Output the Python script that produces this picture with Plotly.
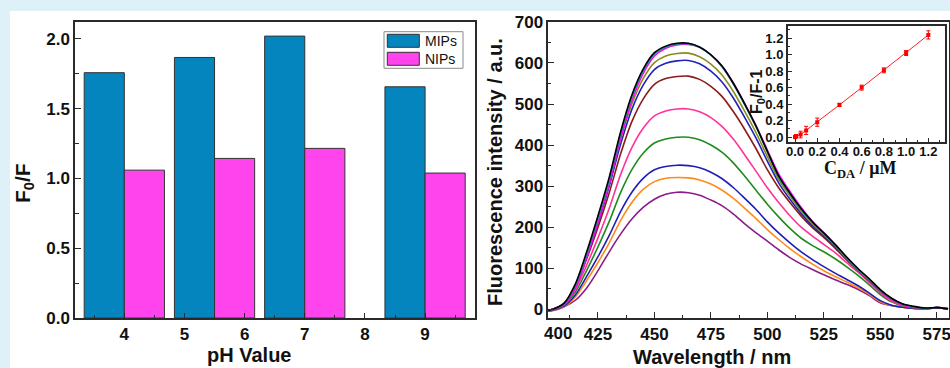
import plotly.graph_objects as go

W, H = 950, 368
def fx(x):
    return x / W
def fy(y):
    return 1 - y / H

FONT = "Arial, 'Liberation Sans', sans-serif"
SERIF = "'Times New Roman', 'Liberation Serif', serif"
AXC = "#2a2a2a"

# ---------------- Left panel: F0/F vs pH ----------------
group_pos = [4.0, 5.5, 7.0, 9.0]
mips = [1.757, 1.866, 2.019, 1.656]
nips = [1.059, 1.143, 1.215, 1.038]
bar_width = 0.667
ph_ticks = [4, 5, 6, 7, 8, 9]

# ---------------- Right panel: fluorescence spectra ----------------
wavelength = [400, 405, 410, 415, 420, 425, 430, 435, 440, 445, 450, 455, 460, 465, 470,
              475, 480, 485, 490, 495, 500, 505, 510, 515, 520, 525, 530, 535, 540, 545,
              550, 555, 560, 565, 570, 575, 580]

spec_black = [-5, 0, 15, 62, 140, 228, 322, 432, 522, 585, 625, 641, 648, 648, 639, 620, 592,
              550, 500, 446, 385, 325, 283, 245, 213, 186, 158, 128, 100, 75, 48, 27, 13, 7, 3, 4, 1]
spec_teal = [-5, 0, 13, 58, 134, 222, 316, 426, 517, 581, 622, 639, 646, 647, 638, 619, 590,
             548, 498, 444, 383, 322, 281, 243, 211, 184, 156, 126, 98, 73, 47, 26, 12, 6, 2, 4, 1]
spec_magenta = [-5, -1, 11, 52, 126, 212, 306, 416, 508, 574, 617, 636, 644, 645, 638, 620, 592,
                551, 501, 447, 388, 330, 287, 248, 214, 186, 157, 127, 99, 73, 46, 25, 11, 5, 1, 4, 1]
spec_olive = [-5, 0, 14, 58, 132, 216, 308, 414, 500, 562, 601, 617, 623, 624, 615, 597, 570,
              530, 482, 430, 372, 316, 276, 239, 208, 182, 155, 125, 97, 72, 46, 26, 12, 6, 2, 4, 1]
spec_blue = [-5, 0, 13, 56, 128, 210, 300, 402, 487, 546, 584, 599, 605, 606, 598, 580, 553,
             514, 467, 417, 361, 308, 268, 233, 203, 178, 152, 123, 96, 71, 45, 25, 12, 5, 2, 4, 1]
spec_brown = [-5, 0, 13, 54, 123, 200, 284, 378, 457, 512, 548, 562, 567, 568, 560, 543, 518,
              481, 438, 391, 340, 296, 260, 227, 199, 175, 149, 121, 95, 70, 45, 25, 12, 5, 2, 4, 1]
spec_pink = [-5, 0, 12, 48, 108, 174, 246, 328, 394, 441, 471, 483, 488, 488, 481, 467, 445,
             414, 376, 336, 296, 260, 228, 200, 178, 158, 138, 114, 91, 66, 40, 20, 9, 4, 1, 4, 1]
spec_green = [-5, -1, 10, 42, 95, 152, 214, 284, 340, 380, 405, 415, 419, 419, 413, 400, 382,
              356, 324, 290, 256, 225, 197, 173, 155, 140, 123, 104, 83, 60, 36, 18, 8, 3, 1, 4, 1]
spec_blue2 = [-6, -2, 8, 35, 80, 128, 180, 238, 285, 319, 340, 348, 351, 350, 345, 334, 318,
              296, 270, 243, 213, 186, 162, 140, 121, 104, 88, 73, 58, 40, 21, 10, 5, 2, 1, 4, 1]
spec_orange = [-6, -3, 6, 30, 70, 114, 162, 216, 260, 292, 311, 319, 321, 320, 315, 305, 290,
               270, 246, 221, 194, 170, 148, 128, 110, 94, 80, 67, 53, 37, 18, 9, 5, 2, 1, 4, 1]
spec_purple = [-6, -3, 6, 22, 52, 94, 140, 183, 220, 248, 268, 280, 285, 284, 278, 266, 252,
               232, 208, 186, 166, 145, 126, 110, 97, 84, 72, 61, 49, 34, 16, 9, 5, 2, 1, 3, 1]

spectra = [
    (spec_purple, "#8B1C8B"),
    (spec_orange, "#FF8C1A"),
    (spec_blue2, "#1F1FB8"),
    (spec_green, "#1E8C1E"),
    (spec_pink, "#FF3399"),
    (spec_brown, "#8B1A1A"),
    (spec_blue, "#2222BB"),
    (spec_olive, "#8C8C1E"),
    (spec_magenta, "#FF00FF"),
    (spec_teal, "#139696"),
    (spec_black, "#000000"),
]

wl_ticks = [400, 425, 450, 475, 500, 525, 550, 575]

# ---------------- Inset: F0/F-1 vs C_DA ----------------
c_da = [0.0, 0.01, 0.05, 0.1, 0.2, 0.4, 0.6, 0.8, 1.0, 1.2]
f_ratio = [0.0, 0.01, 0.03, 0.08, 0.18, 0.39, 0.60, 0.81, 1.02, 1.24]
f_err = [0.02, 0.02, 0.04, 0.05, 0.05, 0.02, 0.03, 0.03, 0.03, 0.05]

fig = go.Figure()

fig.add_trace(go.Bar(x=group_pos, y=mips, width=bar_width, offset=-bar_width,
                     marker=dict(color="#0585BD", line=dict(color="#333333", width=1)),
                     name="MIPs", xaxis="x", yaxis="y", showlegend=False))
fig.add_trace(go.Bar(x=group_pos, y=nips, width=bar_width, offset=0,
                     marker=dict(color="#FF44EE", line=dict(color="#333333", width=1)),
                     name="NIPs", xaxis="x", yaxis="y", showlegend=False))

for ys, col in spectra:
    fig.add_trace(go.Scatter(x=wavelength, y=ys, mode="lines",
                             line=dict(color=col, width=1.6, shape="spline", smoothing=0.8),
                             xaxis="x2", yaxis="y2", showlegend=False, hoverinfo="skip"))

fig.add_trace(go.Scatter(x=c_da, y=f_ratio, mode="lines+markers",
                         line=dict(color="#FF2020", width=1),
                         marker=dict(color="#FF0000", size=4, symbol="square"),
                         error_y=dict(type="data", array=f_err, color="#FF0000", thickness=1, width=2),
                         xaxis="x3", yaxis="y3", showlegend=False))

common = dict(showline=True, linecolor=AXC, mirror=True, showgrid=False, zeroline=False,
              ticks="inside", tickcolor=AXC, automargin=False, ticklabeloverflow="allow")

layout = dict(
    width=W, height=H,
    margin=dict(l=0, r=0, t=0, b=0, autoexpand=False),
    paper_bgcolor="#DFF1F8",
    plot_bgcolor="white",
    barmode="overlay",
    font=dict(family=FONT),
    xaxis=dict(domain=[fx(75), fx(475)], anchor="y", range=[3.18, 9.83],
               tickvals=ph_ticks, ticklen=5, linewidth=1.5,
               minor=dict(ticks="inside", dtick=0.5, tick0=0, ticklen=3, tickcolor=AXC),
               tickfont=dict(family=FONT, size=17, color="#111111", weight="bold"), **common),
    yaxis=dict(domain=[fy(318), fy(22)], anchor="x", range=[0, 2.12],
               tickvals=[0, 0.5, 1.0, 1.5, 2.0], ticktext=["0.0", "0.5", "1.0", "1.5", "2.0"],
               ticklen=6, linewidth=1.5,
               minor=dict(ticks="inside", dtick=0.25, tick0=0, ticklen=4, tickcolor=AXC),
               tickfont=dict(family=FONT, size=17, color="#111111", weight="bold"), **common),
    xaxis2=dict(domain=[fx(548.3), fx(948.7)], anchor="y2", range=[403, 580.3],
                tickvals=wl_ticks, ticklen=6, linewidth=1.5,
                minor=dict(ticks="inside", dtick=12.5, tick0=400, ticklen=3, tickcolor=AXC),
                tickfont=dict(family=FONT, size=17, color="#111111", weight="bold"), **common),
    yaxis2=dict(domain=[fy(317.7), fy(21.7)], anchor="x2", range=[-20.5, 700.5],
                tickvals=[0, 100, 200, 300, 400, 500, 600, 700], ticklen=6, linewidth=1.5,
                minor=dict(ticks="inside", dtick=50, tick0=0, ticklen=3, tickcolor=AXC),
                tickfont=dict(family=FONT, size=17, color="#111111", weight="bold"), **common),
    xaxis3=dict(domain=[fx(788), fx(945)], anchor="y3", range=[-0.063, 1.35],
                tickvals=[0, 0.2, 0.4, 0.6, 0.8, 1.0, 1.2],
                ticktext=["0.0", "0.2", "0.4", "0.6", "0.8", "1.0", "1.2"],
                ticklen=4, linewidth=2, ticklabelstandoff=-3,
                minor=dict(ticks="inside", dtick=0.1, tick0=0, ticklen=2, tickcolor=AXC),
                tickfont=dict(family=FONT, size=13, color="#111111", weight="bold"), **common),
    yaxis3=dict(domain=[fy(141.7), fy(25.7)], anchor="x3", range=[-0.057, 1.352],
                tickvals=[0, 0.2, 0.4, 0.6, 0.8, 1.0, 1.2],
                ticktext=["0.0", "0.2", "0.4", "0.6", "0.8", "1.0", "1.2"],
                ticklen=4, linewidth=2,
                minor=dict(ticks="inside", dtick=0.1, tick0=0, ticklen=2, tickcolor=AXC),
                tickfont=dict(family=FONT, size=13, color="#111111", weight="bold"), **common),
)

shapes = [
    dict(type="rect", xref="paper", yref="paper", x0=fx(10), x1=1.0, y0=0, y1=fy(11),
         fillcolor="white", line=dict(width=0), layer="below"),
    dict(type="rect", xref="paper", yref="paper", x0=fx(788), x1=fx(945), y0=fy(141.7), y1=fy(25.7),
         fillcolor="white", line=dict(width=0), layer="below"),
    dict(type="rect", xref="paper", yref="paper", x0=fx(384), x1=fx(463), y0=fy(68.3), y1=fy(31.7),
         fillcolor="white", line=dict(color="#8a8a8a", width=1)),
    dict(type="rect", xref="paper", yref="paper", x0=fx(387.3), x1=fx(419.3), y0=fy(47.3), y1=fy(34.3),
         fillcolor="#0585BD", line=dict(color="#333333", width=1)),
    dict(type="rect", xref="paper", yref="paper", x0=fx(387.3), x1=fx(419.3), y0=fy(65.3), y1=fy(52.3),
         fillcolor="#FF44EE", line=dict(color="#333333", width=1)),
]

annotations = [
    dict(text="MIPs", x=fx(423), y=fy(41), xref="paper", yref="paper", xanchor="left", yanchor="middle",
         showarrow=False, font=dict(family=FONT, size=14, color="#111111")),
    dict(text="NIPs", x=fx(423), y=fy(59), xref="paper", yref="paper", xanchor="left", yanchor="middle",
         showarrow=False, font=dict(family=FONT, size=14, color="#111111")),
    dict(text="<b>F<sub>0</sub>/F</b>", x=fx(24), y=fy(183), xref="paper", yref="paper",
         textangle=-90, showarrow=False, xanchor="center", yanchor="middle",
         font=dict(family=FONT, size=21, color="#111111")),
    dict(text="<b>pH Value</b>", x=fx(249), y=fy(355), xref="paper", yref="paper",
         showarrow=False, xanchor="center", yanchor="middle",
         font=dict(family=FONT, size=20, color="#111111")),
    dict(text="<b>Fluorescence intensity / a.u.</b>", x=fx(495), y=fy(172), xref="paper", yref="paper",
         textangle=-90, showarrow=False, xanchor="center", yanchor="middle",
         font=dict(family=FONT, size=20, color="#111111")),
    dict(text="<b>Wavelength / nm</b>", x=fx(712), y=fy(357), xref="paper", yref="paper",
         showarrow=False, xanchor="center", yanchor="middle",
         font=dict(family=FONT, size=20, color="#111111")),
    dict(text="<b>400</b>", x=fx(558), y=fy(333), xref="paper", yref="paper",
         showarrow=False, xanchor="center", yanchor="middle",
         font=dict(family=FONT, size=17, color="#111111")),
    dict(text="<b>F<sub>0</sub>/F-1</b>", x=fx(757), y=fy(92), xref="paper", yref="paper",
         textangle=-90, showarrow=False, xanchor="center", yanchor="middle",
         font=dict(family=FONT, size=16, color="#111111")),
    dict(text="<b>C<sub>DA</sub> / μM</b>", x=fx(860), y=fy(170), xref="paper", yref="paper",
         showarrow=False, xanchor="center", yanchor="middle",
         font=dict(family=SERIF, size=18, color="#111111")),
]

fig.update_layout(**layout, shapes=shapes, annotations=annotations)
fig.write_html("out.html", config={"displayModeBar": False},
               post_script="document.body.style.margin='0';document.body.style.padding='0';")
